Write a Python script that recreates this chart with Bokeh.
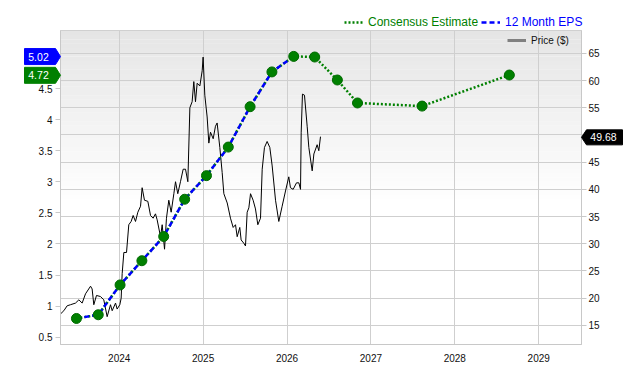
from bokeh.plotting import figure
from bokeh.models import (Range1d, LinearAxis, FixedTicker, NumeralTickFormatter, Legend,
                          LegendItem, Label, BoxAnnotation, GridBox)
from bokeh.embed import file_html
from bokeh.resources import INLINE

# ---------------- data ----------------
eps_dates = [2023.49, 2023.75, 2024.01, 2024.27, 2024.53, 2024.78, 2025.04, 2025.30,
             2025.56, 2025.82, 2026.08]
eps_values = [0.80, 0.86, 1.34, 1.73, 2.12, 2.72, 3.10, 3.56, 4.21, 4.77, 5.02]

est_dates = [2023.49, 2023.75, 2024.01, 2024.27, 2024.53, 2024.78, 2025.04, 2025.30,
             2025.56, 2025.82, 2026.08, 2026.33, 2026.60, 2026.84, 2027.61, 2028.65]
est_values = [0.80, 0.86, 1.34, 1.73, 2.12, 2.72, 3.10, 3.56,
              4.21, 4.77, 5.02, 5.01, 4.64, 4.27, 4.22, 4.72]

price_dates = [2023.300, 2023.340, 2023.379, 2023.419, 2023.479, 2023.519, 2023.558, 2023.598,
               2023.658, 2023.677, 2023.697, 2023.729, 2023.777, 2023.816, 2023.856, 2023.896,
               2023.916, 2023.956, 2023.975, 2024.007, 2024.023, 2024.035, 2024.055, 2024.087,
               2024.114, 2024.142, 2024.166, 2024.194, 2024.222, 2024.254, 2024.273, 2024.301,
               2024.341, 2024.373, 2024.404, 2024.432, 2024.452, 2024.492, 2024.512, 2024.540,
               2024.563, 2024.591, 2024.619, 2024.651, 2024.671, 2024.698, 2024.730, 2024.762,
               2024.790, 2024.818, 2024.842, 2024.869, 2024.889, 2024.909, 2024.929, 2024.961,
               2024.989, 2025.000, 2025.020, 2025.048, 2025.068, 2025.088, 2025.120, 2025.147,
               2025.167, 2025.199, 2025.227, 2025.247, 2025.287, 2025.326, 2025.358, 2025.386,
               2025.406, 2025.437, 2025.453, 2025.485, 2025.505, 2025.525, 2025.545, 2025.565,
               2025.596, 2025.624, 2025.652, 2025.684, 2025.704, 2025.731, 2025.763, 2025.795,
               2025.823, 2025.863, 2025.902, 2025.942, 2025.982, 2026.021, 2026.041, 2026.073,
               2026.113, 2026.141, 2026.161, 2026.169, 2026.184, 2026.208, 2026.240, 2026.260,
               2026.300, 2026.320, 2026.359, 2026.379, 2026.399]
price_values = [17.1, 17.7, 18.6, 18.8, 19.1, 19.7, 19.1, 20.8,
                22.2, 21.7, 18.8, 20.5, 20.3, 19.7, 16.6, 18.8,
                17.7, 19.1, 18.0, 18.8, 20.0, 24.5, 28.4, 28.4,
                33.5, 34.1, 35.2, 34.1, 35.8, 36.9, 40.3, 38.0,
                37.8, 35.2, 34.7, 35.5, 34.4, 31.3, 33.5, 29.0,
                34.7, 38.0, 35.8, 39.2, 41.4, 39.2, 41.4, 43.7,
                43.7, 41.4, 55.0, 56.1, 59.8, 56.1, 59.5, 59.0,
                61.8, 64.3, 57.3, 53.3, 48.5, 50.5, 49.3, 51.6,
                52.2, 47.7, 43.1, 39.2, 37.5, 34.7, 33.0, 33.5,
                31.3, 33.0, 30.7, 30.1, 29.6, 35.8, 36.6, 39.2,
                38.0, 36.4, 33.5, 34.7, 43.7, 47.7, 48.8, 47.7,
                44.3, 38.0, 34.1, 36.9, 39.7, 42.3, 40.3, 40.0,
                41.2, 41.2, 40.0, 50.5, 57.5, 57.3, 51.6, 47.7,
                43.4, 46.5, 48.2, 47.1, 49.68]

year_ticks = [2024, 2025, 2026, 2027, 2028, 2029]
price_ticks = [15, 20, 25, 30, 35, 40, 45, 50, 55, 60, 65]
eps_ticks = [0.5, 1, 1.5, 2, 2.5, 3, 3.5, 4, 4.5, 5]

# ---------------- layout ----------------
W, H = 624, 364
B_LEFT, B_RIGHT, B_TOP, B_BOTTOM = 60, 43, 30, 18
FW = W - B_LEFT - B_RIGHT
FH = H - B_TOP - B_BOTTOM

x_range = Range1d(2023.30, 2029.51)
price_range = Range1d(11.49, 69.19)
eps_range = Range1d(0.381, 5.437)

FONT = "Liberation Sans"
GREEN = "#008000"
BLUE = "#0000ff"
NAN2 = [float("nan"), float("nan")]

p = figure(width=W, height=H, output_backend="svg", toolbar_location=None,
           x_range=x_range, y_range=price_range, y_axis_location="right",
           min_border_left=B_LEFT, min_border_right=B_RIGHT,
           min_border_top=B_TOP, min_border_bottom=B_BOTTOM)
p.frame_align = False
p.extra_y_ranges = {"eps": eps_range}
p.outline_line_color = "#c8c8c8"
p.background_fill_color = "white"
p.border_fill_color = "white"

# gradient background in the frame
n_bands = 40
grad_end = 0.55
span = price_range.end - price_range.start
for i in range(n_bands):
    f0 = grad_end * i / n_bands
    f1 = grad_end * (i + 1.05) / n_bands
    c = int(round(229 + (255 - 229) * (i + 0.5) / n_bands))
    p.add_layout(BoxAnnotation(top=price_range.end - f0 * span,
                               bottom=price_range.end - f1 * span,
                               fill_color=(c, c, c), fill_alpha=1.0,
                               line_alpha=0, level="image"))

# grid
p.xgrid.ticker = FixedTicker(ticks=year_ticks)
p.ygrid.ticker = FixedTicker(ticks=price_ticks)
p.xgrid.grid_line_color = "#cfcfcf"
p.ygrid.grid_line_color = "#cfcfcf"

# bottom axis
xa = p.xaxis[0]
xa.ticker = FixedTicker(ticks=year_ticks)
xa.formatter = NumeralTickFormatter(format="0")
xa.major_tick_line_color = None
xa.minor_tick_line_color = None
xa.axis_line_color = "#c8c8c8"
xa.major_label_standoff = 3
xa.major_label_text_font = FONT
xa.major_label_text_font_size = "10px"
xa.major_label_text_color = "#111111"

# right (price) axis
ra = p.yaxis[0]
ra.ticker = FixedTicker(ticks=price_ticks)
ra.axis_line_color = "#c8c8c8"
ra.major_tick_line_color = "#c8c8c8"
ra.major_tick_out = 5
ra.major_tick_in = 0
ra.minor_tick_line_color = None
ra.major_label_standoff = 2
ra.major_label_text_font = FONT
ra.major_label_text_font_size = "10px"
ra.major_label_text_color = "#111111"

# left (EPS) axis
la = LinearAxis(y_range_name="eps", ticker=FixedTicker(ticks=eps_ticks),
                formatter=NumeralTickFormatter(format="0.[0]"))
la.axis_line_color = "#c8c8c8"
la.major_tick_line_color = "#c8c8c8"
la.major_tick_out = 5
la.major_tick_in = 0
la.minor_tick_line_color = None
la.major_label_standoff = 3
la.major_label_text_font = FONT
la.major_label_text_font_size = "10px"
la.major_label_text_color = "#111111"
p.add_layout(la, "left")

# ---------------- series ----------------
price_r = p.line(price_dates, price_values, line_color="black", line_width=1)
est_r = p.line(est_dates, est_values, y_range_name="eps", line_color=GREEN,
               line_width=2.5, line_dash="2 2")
eps_r = p.line(eps_dates, eps_values, y_range_name="eps", line_color=BLUE,
               line_width=2.5, line_dash="5 3")
p.scatter(est_dates, est_values, y_range_name="eps", size=10,
          fill_color=GREEN, line_color="#006a00", line_width=1)
# legend-only sample (no visible data)
price_leg_r = p.line(x=NAN2, y=NAN2, line_color="#808080", line_width=3)


def legend_for(fig, item, color, loc, size):
    lg = Legend(items=[item], location=loc, orientation="horizontal",
                padding=0, margin=0, spacing=0, glyph_width=19, glyph_height=14,
                label_height=14, label_standoff=5, border_line_alpha=0,
                background_fill_alpha=0, label_text_color=color,
                label_text_font=FONT, label_text_font_size=size)
    fig.add_layout(lg, "center")


legend_for(p, LegendItem(label="Price ($)", renderers=[price_leg_r]), "#111111",
           (447, FH - 19), "10px")

# ---------------- overlay (unclipped annotations outside the frame) ----------------
xpx = (x_range.end - x_range.start) / FW
epx = (eps_range.end - eps_range.start) / FH
ppx = (price_range.end - price_range.start) / FH

ov_x = Range1d(x_range.start - B_LEFT * xpx, x_range.start + (W - B_LEFT) * xpx)
ov_eps = Range1d(eps_range.end - (H - B_TOP) * epx, eps_range.end + B_TOP * epx)
ov_price = Range1d(price_range.end - (H - B_TOP) * ppx, price_range.end + B_TOP * ppx)

q = figure(width=W, height=H, output_backend="svg", toolbar_location=None,
           x_range=ov_x, y_range=ov_eps, x_axis_type=None, y_axis_type=None,
           min_border=0)
q.frame_align = False
q.extra_y_ranges = {"price": ov_price}
q.outline_line_color = None
q.background_fill_alpha = 0
q.border_fill_alpha = 0


def cx(px):
    return ov_x.start + px * xpx


# top legend row (legend-only samples)
est_leg_r = q.line(x=NAN2, y=NAN2, line_color=GREEN, line_width=2.5, line_dash="2 2")
eps_leg_r = q.line(x=NAN2, y=NAN2, line_color=BLUE, line_width=2.5, line_dash="5 3")
legend_for(q, LegendItem(label="Consensus Estimate", renderers=[est_leg_r]), GREEN, (344, 335), "12px")
legend_for(q, LegendItem(label="12 Month EPS", renderers=[eps_leg_r]), BLUE, (481, 335), "12px")


def flag(value, rng_name, unit, x_pts, color, label_x, half=8):
    h = half * unit
    q.patch(x=[cx(v) for v in x_pts],
            y=[value + h, value + h, value, value - h, value - h],
            y_range_name=rng_name, fill_color=color, line_color=color, line_width=1)
    q.add_layout(Label(x=cx(label_x), y=value, y_range_name=rng_name,
                       text=f"{value:.2f}", text_color="white", text_align="center",
                       text_baseline="middle", text_font=FONT, text_font_size="10.5px"))


flag(eps_values[-1], "default", epx, [24, 55, 60, 55, 24], BLUE, 38)
flag(est_values[-1], "default", epx, [24, 55, 60, 55, 24], GREEN, 38)
flag(price_values[-1], "price", ppx, [622, 586, 581, 586, 622], "black", 603, half=7.5)

layout = GridBox(children=[(p, 0, 0), (q, 0, 0)])

open("out.html", "w").write(file_html(layout, INLINE))
